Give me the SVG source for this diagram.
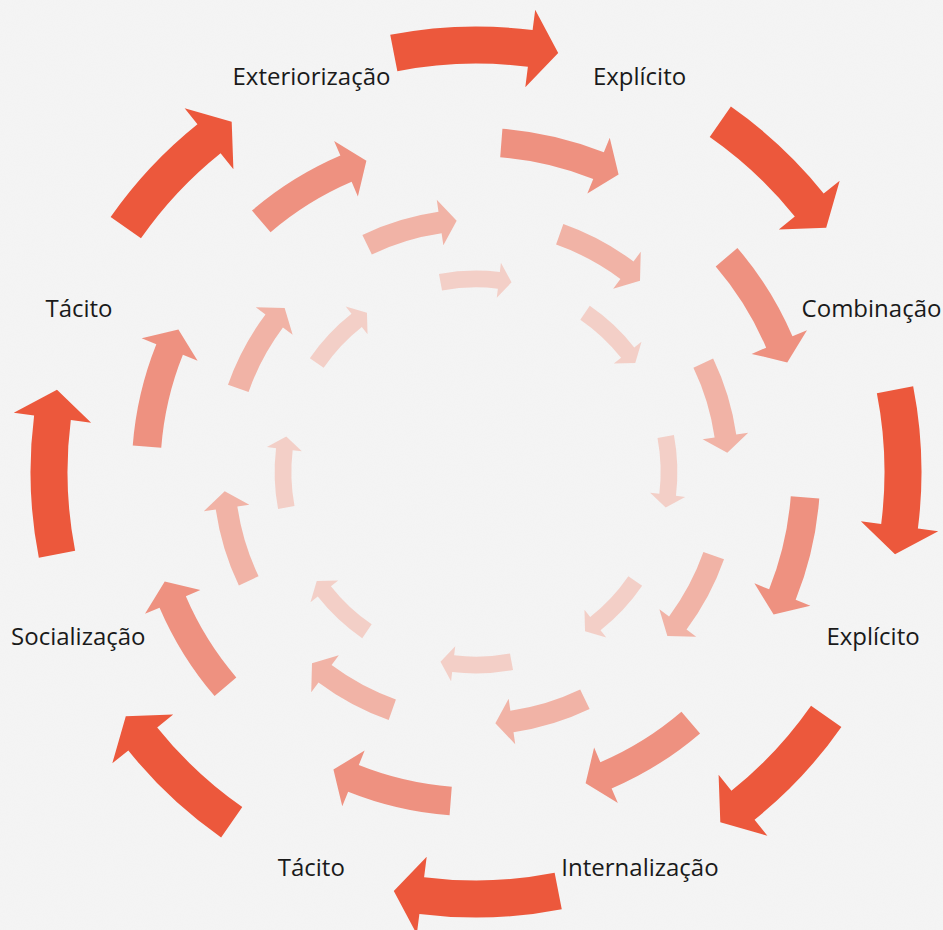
<svg xmlns="http://www.w3.org/2000/svg" xmlns:xlink="http://www.w3.org/1999/xlink" width="943" height="930" viewBox="0 0 943 930">
<style>
.lbl{font-family:"Open Sans","Liberation Sans",sans-serif;font-size:24px;fill:#1a1a1a;text-anchor:middle}
.r1{fill:#EC583C}
.r2{fill:#EE9180}
.r3{fill:#F1B3A6}
.r4{fill:#F3CFC7}
</style>
<defs>
<filter id="noise" x="0" y="0" width="100%" height="100%">
<feTurbulence type="fractalNoise" baseFrequency="0.9" numOctaves="2" seed="3"/>
<feColorMatrix type="matrix" values="0 0 0 0 0.8  0 0 0 0 0.8  0 0 0 0 0.8  0 0 0 0.2 0"/>
</filter>
<path id="aCard" d="M -85.77 -437.16 A 445.5 445.5 0 0 1 56.61 -441.89 L 59.21 -462.22 L 82.21 -419.01 L 49.30 -384.85 L 51.90 -405.19 A 408.5 408.5 0 0 0 -78.64 -400.86 Z"/>
<path id="aDiag" d="M -78.13 -438.59 A 445.5 445.5 0 0 1 48.88 -442.81 L 51.13 -463.19 L 74.88 -420.38 L 42.58 -385.66 L 44.82 -406.03 A 408.5 408.5 0 0 0 -71.64 -402.17 Z"/>
<path id="aIn" d="M -81.95 -437.90 A 445.5 445.5 0 0 1 52.75 -442.37 L 55.17 -462.72 L 78.55 -419.72 L 45.94 -385.27 L 48.37 -405.63 A 408.5 408.5 0 0 0 -75.14 -401.53 Z"/>
</defs>
<rect width="943" height="930" fill="#F5F5F5"/>
<rect width="943" height="930" filter="url(#noise)"/>
<g id="connectors">
<g id="ring1" class="r1">
<use href="#aCard" transform="translate(476 472) rotate(0)"/>
<use href="#aDiag" transform="translate(476 472) rotate(45)"/>
<use href="#aCard" transform="translate(476 472) rotate(90)"/>
<use href="#aDiag" transform="translate(476 472) rotate(135)"/>
<use href="#aCard" transform="translate(476 472) rotate(180)"/>
<use href="#aDiag" transform="translate(476 472) rotate(225)"/>
<use href="#aCard" transform="translate(476 472) rotate(270)"/>
<use href="#aDiag" transform="translate(476 472) rotate(315)"/>
</g>
<g id="ring2" class="r2">
<use href="#aIn" transform="translate(476 472) rotate(15) scale(0.7728)"/>
<use href="#aIn" transform="translate(476 472) rotate(60) scale(0.7728)"/>
<use href="#aIn" transform="translate(476 472) rotate(105) scale(0.7728)"/>
<use href="#aIn" transform="translate(476 472) rotate(150) scale(0.7728)"/>
<use href="#aIn" transform="translate(476 472) rotate(195) scale(0.7728)"/>
<use href="#aIn" transform="translate(476 472) rotate(240) scale(0.7728)"/>
<use href="#aIn" transform="translate(476 472) rotate(285) scale(0.7728)"/>
<use href="#aIn" transform="translate(476 472) rotate(330) scale(0.7728)"/>
</g>
<g id="ring3" class="r3">
<use href="#aIn" transform="translate(476 472) rotate(30) scale(0.5902)"/>
<use href="#aIn" transform="translate(476 472) rotate(75) scale(0.5902)"/>
<use href="#aIn" transform="translate(476 472) rotate(120) scale(0.5902)"/>
<use href="#aIn" transform="translate(476 472) rotate(165) scale(0.5902)"/>
<use href="#aIn" transform="translate(476 472) rotate(210) scale(0.5902)"/>
<use href="#aIn" transform="translate(476 472) rotate(255) scale(0.5902)"/>
<use href="#aIn" transform="translate(476 472) rotate(300) scale(0.5902)"/>
<use href="#aIn" transform="translate(476 472) rotate(345) scale(0.5902)"/>
</g>
<g id="ring4" class="r4">
<use href="#aIn" transform="translate(476 472) rotate(0) scale(0.452)"/>
<use href="#aIn" transform="translate(476 472) rotate(45) scale(0.452)"/>
<use href="#aIn" transform="translate(476 472) rotate(90) scale(0.452)"/>
<use href="#aIn" transform="translate(476 472) rotate(135) scale(0.452)"/>
<use href="#aIn" transform="translate(476 472) rotate(180) scale(0.452)"/>
<use href="#aIn" transform="translate(476 472) rotate(225) scale(0.452)"/>
<use href="#aIn" transform="translate(476 472) rotate(270) scale(0.452)"/>
<use href="#aIn" transform="translate(476 472) rotate(315) scale(0.452)"/>
</g>
</g>
<g id="exteriorizacao"><text class="lbl" x="311.5" y="85">Exteriorização</text></g>
<g id="explicito-top"><text class="lbl" x="639.5" y="85">Explícito</text></g>
<g id="combinacao"><text class="lbl" x="871.5" y="317">Combinação</text></g>
<g id="explicito-right"><text class="lbl" x="873" y="645">Explícito</text></g>
<g id="internalizacao"><text class="lbl" x="640" y="876">Internalização</text></g>
<g id="tacito-bottom"><text class="lbl" x="311.3" y="876">Tácito</text></g>
<g id="socializacao"><text class="lbl" x="78.3" y="645">Socialização</text></g>
<g id="tacito-left"><text class="lbl" x="79" y="317">Tácito</text></g>
</svg>
